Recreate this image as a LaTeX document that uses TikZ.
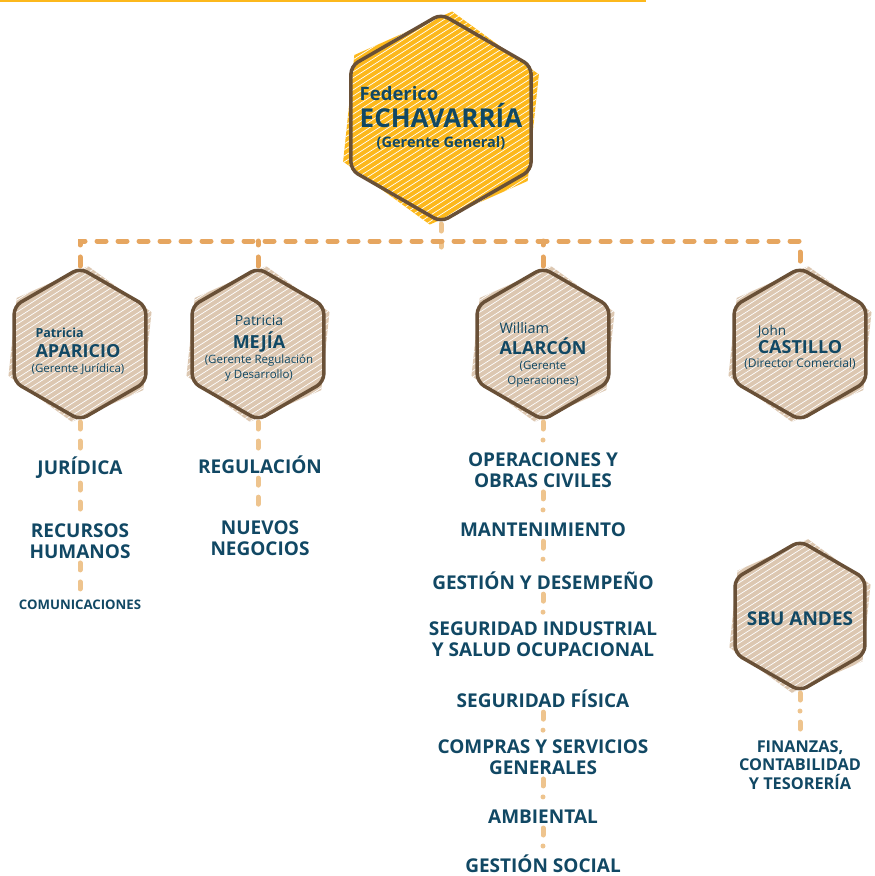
\documentclass[tikz,border=0pt]{standalone}
\usepackage{fontspec}
\setmainfont{Open Sans}
\usetikzlibrary{shapes.geometric}

\definecolor{amarillo}{RGB}{252,184,28}
\definecolor{arena}{RGB}{220,199,177}
\definecolor{cafe}{RGB}{105,80,55}
\definecolor{azul}{RGB}{17,72,100}
\definecolor{linea}{RGB}{230,166,96}
\definecolor{lineaclara}{RGB}{238,196,142}

\begin{document}
\begin{tikzpicture}[x=1pt, y=-1pt,
    hexa/.style={regular polygon, regular polygon sides=6, shape border rotate=30,
        draw=cafe, line width=3.5pt, rounded corners=8pt, inner sep=0pt, minimum size=#1},
    hexa/.default=152pt,
    nombre/.style={text=azul, align=center, inner sep=0pt},
    area/.style={text=azul, font=\bfseries\fontsize{19}{21.5}\selectfont, align=center, inner sep=4pt},
    bus/.style={draw=linea, line width=5pt, line cap=round, dash pattern=on 9pt off 12pt},
    rama/.style={draw=lineaclara, line width=5pt, line cap=round, dash pattern=on 7pt off 12pt},
    ramapunto/.style={draw=lineaclara, line width=5pt, line cap=round, dash pattern=on 7pt off 11pt on 0pt off 11pt}]
\useasboundingbox (0,0) rectangle (875,876);

% 顶部黄线
\draw[amarillo, line width=2pt] (0,1) -- (646,1);

% 六边形的斜线填充
\foreach \x/\y/\r/\c in {441/118/104/amarillo, 80/344/76/arena, 258/344/76/arena,
        543/344/76/arena, 800/344/76/arena, 800/616/75/arena} {
    \begin{scope}[shift={(\x,\y)}, rotate=-6]
        \clip ({90}:{\r*1.03}) -- ({150}:{\r*1.03}) -- ({210}:{\r*1.03})
            -- ({270}:{\r*1.03}) -- ({330}:{\r*1.03}) -- ({30}:{\r*1.03}) -- cycle;
        \fill[\c] (-1.3*\r, -1.3*\r) rectangle (1.3*\r, 1.3*\r);
        \foreach \k in {-24,...,24}
            \draw[white, line width=0.7pt] (-1.3*\r, \k*6.5+1.04*\r) -- (1.3*\r, \k*6.5-1.04*\r);
    \end{scope}
}

% 六边形轮廓
\node[hexa=208pt] (echavarria) at (441,118) {};
\node[hexa] (aparicio) at (80,344) {};
\node[hexa] (mejia) at (258,344) {};
\node[hexa] (alarcon) at (543,344) {};
\node[hexa] (castillo) at (800,344) {};
\node[hexa=150pt] (sbu) at (800,616) {};

% 姓名
\node[nombre, font=\bfseries\fontsize{26}{27}\selectfont] (n-echavarria) at (441,118) {%
    \fontsize{18.5}{20}\selectfont\rlap{Federico}\fontsize{26}{27}\selectfont\hphantom{ECHAVARRÍA}\\
    ECHAVARRÍA\\[-7pt]
    \fontsize{14.5}{20}\selectfont (Gerente General)};
\node[nombre, font=\fontsize{18}{20}\selectfont] (n-aparicio) at (78,351) {%
    \fontsize{12.5}{14}\selectfont\bfseries\rlap{Patricia}\fontsize{18}{20}\selectfont\hphantom{APARICIO}\\
    \bfseries APARICIO\\[-5pt]
    \fontsize{11.5}{15}\selectfont (Gerente Jurídica)};
\node[nombre, font=\fontsize{12}{15}\selectfont] (n-mejia) at (259,348) {%
    \fontsize{14}{14}\selectfont Patricia\\[5pt]
    \fontsize{18}{20}\selectfont\bfseries MEJÍA\\
    \fontsize{11.5}{14}\selectfont (Gerente Regulación\\
    \fontsize{11.5}{14}\selectfont y Desarrollo)};
\node[nombre, font=\fontsize{12}{15}\selectfont] (n-alarcon) at (543,355) {%
    \fontsize{14.5}{14}\selectfont\rlap{William}\fontsize{18}{18}\selectfont\bfseries\hphantom{ALARCÓN}\\[3pt]
    \fontsize{18}{18}\selectfont\bfseries ALARCÓN\\
    \fontsize{11.5}{15}\selectfont (Gerente\\
    \fontsize{11.5}{15}\selectfont Operaciones)};
\node[nombre, font=\fontsize{14}{18}\selectfont] (n-castillo) at (800,347) {%
    \fontsize{13.5}{14}\selectfont\rlap{John}\fontsize{18}{18}\selectfont\bfseries\hphantom{CASTILLO}\\
    \fontsize{18}{18}\selectfont\bfseries CASTILLO\\[-4pt]
    \fontsize{12}{14}\selectfont (Director Comercial)};
\node[nombre, font=\bfseries\fontsize{19}{20}\selectfont] (n-sbu) at (800,619) {SBU ANDES};

% 部门
\node[area] (juridica) at (80,468) {JURÍDICA};
\node[area] (rrhh) at (80,541) {RECURSOS\\HUMANOS};
\node[area, font=\bfseries\fontsize{13.2}{15}\selectfont] (comunicaciones) at (80,605) {COMUNICACIONES};
\node[area] (regulacion) at (260,465) {REGULACIÓN};
\node[area] (nuevos) at (260,538) {NUEVOS\\NEGOCIOS};
\node[area] (operaciones) at (543,470) {OPERACIONES Y\\OBRAS CIVILES};
\node[area] (mantenimiento) at (543,530) {MANTENIMIENTO};
\node[area] (gestion) at (543,581) {GESTIÓN Y DESEMPEÑO};
\node[area] (seguridad) at (543,639) {SEGURIDAD INDUSTRIAL\\Y SALUD OCUPACIONAL};
\node[area] (fisica) at (543,699) {SEGURIDAD FÍSICA};
\node[area] (compras) at (543,757) {COMPRAS Y SERVICIOS\\GENERALES};
\node[area] (ambiental) at (543,817) {AMBIENTAL};
\node[area] (social) at (543,864) {GESTIÓN SOCIAL};
\node[area, font=\bfseries\fontsize{16.3}{18.5}\selectfont] (finanzas) at (800,765) {FINANZAS,\\CONTABILIDAD\\Y TESORERÍA};

% 上层连线
\coordinate (bus) at (441,241);
\draw[rama] (echavarria.south) -- ([yshift=-6pt]bus);
\draw[bus] (aparicio.north) -- (aparicio.north |- bus) -- (castillo.north |- bus) -- (castillo.north);
\draw[bus] (mejia.north) -- (mejia.north |- bus);
\draw[bus] (alarcon.north) -- (alarcon.north |- bus);

% 部门连线
\draw[rama] (aparicio.south) -- (juridica.north);
\draw[rama] (juridica.south) -- (rrhh.north);
\draw[rama] (rrhh.south) -- (comunicaciones.north);
\draw[rama] (mejia.south) -- (mejia.south |- regulacion.north);
\draw[rama] (mejia.south |- regulacion.south) -- (mejia.south |- nuevos.north);
\draw[ramapunto] (alarcon.south) -- (operaciones.north);
\draw[ramapunto] (operaciones.south) -- (mantenimiento.north);
\draw[ramapunto] (mantenimiento.south) -- (gestion.north);
\draw[ramapunto] (gestion.south) -- (seguridad.north);
\draw[ramapunto] (fisica.south) -- (compras.north);
\draw[ramapunto] (compras.south) -- (ambiental.north);
\draw[ramapunto] (ambiental.south) -- (social.north);
\draw[ramapunto] (sbu.south) -- (finanzas.north);
\end{tikzpicture}
\end{document}
